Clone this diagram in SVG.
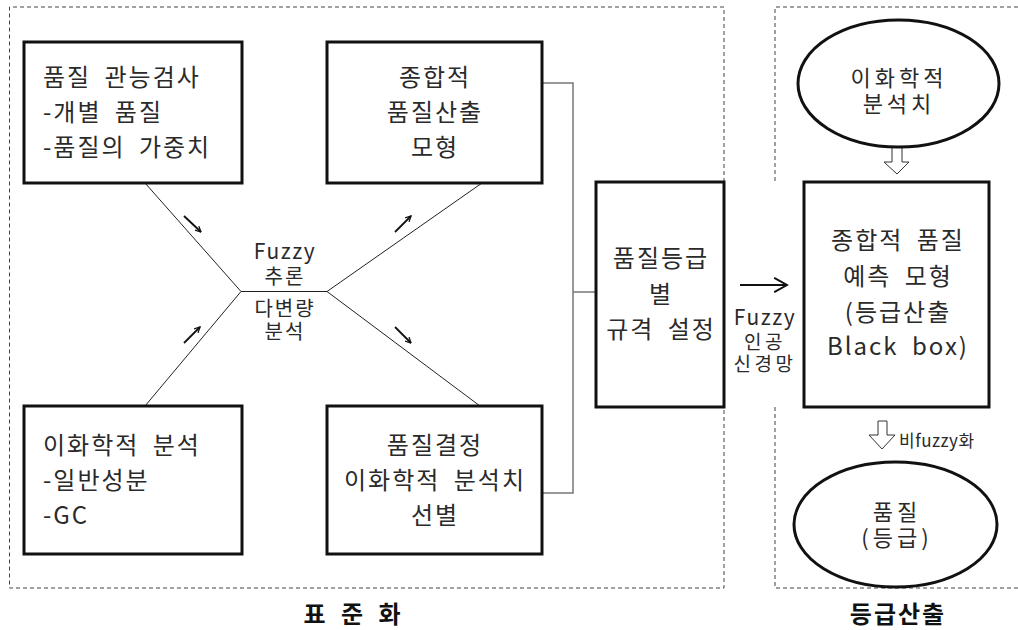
<svg xmlns="http://www.w3.org/2000/svg" width="1018" height="630" viewBox="0 0 1018 630">
<style>
.t{font-family:"Noto Sans CJK KR","Noto Sans",sans-serif;font-size:24px;fill:#2a2a2a;letter-spacing:2px;word-spacing:6px}
.m{text-anchor:middle}
.s{font-size:20px;letter-spacing:2px}
.e{font-size:22px;letter-spacing:4px}
.n{font-size:19px;letter-spacing:3.5px}
.f{font-size:21px;letter-spacing:1.5px}
.xs{font-size:17px;letter-spacing:0.5px;word-spacing:0}
.b{font-weight:bold;fill:#111}
.box{fill:#fff;stroke:#111;stroke-width:3}
.dash{fill:none;stroke:#444;stroke-width:1;stroke-dasharray:4 3}
.conn{fill:none;stroke:#222;stroke-width:1}
.grey{fill:none;stroke:#777;stroke-width:1.5}
.arr{fill:none;stroke:#111;stroke-width:1.8;marker-end:url(#chev)}
.hollow{fill:#fff;stroke:#333;stroke-width:1}
</style>
<defs>
<marker id="chev" viewBox="0 0 10 10" refX="9" refY="5" markerWidth="7" markerHeight="7" markerUnits="userSpaceOnUse" orient="auto">
<path d="M1,1 L9,5 L1,9" fill="none" stroke="#111" stroke-width="1.8"/>
</marker>
<marker id="chevL" viewBox="0 0 10 10" refX="9" refY="5" markerWidth="16" markerHeight="16" markerUnits="userSpaceOnUse" orient="auto">
<path d="M1,0.5 L9,5 L1,9.5" fill="none" stroke="#111" stroke-width="1.2"/>
</marker>
</defs>

<g id="frames">
<path class="dash" d="M724,182 V7 H9.5 V588 H724 V407"/>
<path class="dash" d="M1018,7 H775 V182 M775,407 V588 H1018"/>
</g>

<g id="connectors">
<path class="conn" d="M145,183 L241,291.5 L327,291.5 L482,183"/>
<path class="conn" d="M145,406 L241,291.5 M327,291.5 L480,406"/>
<path class="grey" d="M542,83 H573 V493 H542 M573,292 H596"/>
<path class="arr" d="M184,216 L201,232"/>
<path class="arr" d="M395,232 L411,216"/>
<path class="arr" d="M184,343 L200,327"/>
<path class="arr" d="M395,327 L411,343"/>
<path fill="none" stroke="#111" stroke-width="1.8" marker-end="url(#chevL)" d="M740,285 L787,285"/>
<polygon class="hollow" points="892,147 902,147 902,162 909,162 897,174 884,162 892,162"/>
<polygon class="hollow" points="878,421 887,421 887,435 895,435 882,449 869,435 878,435"/>
</g>

<g id="hub-label">
<text class="t f m" x="285" y="259">Fuzzy</text>
<text class="t s m" x="285" y="284">추론</text>
<text class="t s m" x="285" y="316">다변량</text>
<text class="t s m" x="285" y="339">분석</text>
</g>

<g id="node-sensory">
<rect class="box" x="24" y="42" width="218" height="141"/>
<text class="t" x="43" y="86">품질 관능검사</text>
<text class="t" x="43" y="121">-개별 품질</text>
<text class="t" x="43" y="156">-품질의 가중치</text>
</g>

<g id="node-model">
<rect class="box" x="327" y="42" width="215" height="141"/>
<text class="t m" x="435" y="86">종합적</text>
<text class="t m" x="435" y="121">품질산출</text>
<text class="t m" x="435" y="156">모형</text>
</g>

<g id="node-chem">
<rect class="box" x="24" y="406" width="218" height="148"/>
<text class="t" x="43" y="454">이화학적 분석</text>
<text class="t" x="43" y="489">-일반성분</text>
<text class="t" x="43" y="524">-GC</text>
</g>

<g id="node-select">
<rect class="box" x="327" y="406" width="215" height="148"/>
<text class="t m" x="435" y="454">품질결정</text>
<text class="t m" x="435" y="489">이화학적 분석치</text>
<text class="t m" x="435" y="524">선별</text>
</g>

<g id="node-grade-spec">
<rect class="box" x="596" y="182" width="128" height="225"/>
<text class="t m" x="661" y="267">품질등급</text>
<text class="t m" x="661" y="303">별</text>
<text class="t m" x="661" y="338">규격 설정</text>
</g>

<g id="ann-nn">
<text class="t f m" x="765" y="325">Fuzzy</text>
<text class="t n m" x="765" y="349">인공</text>
<text class="t n m" x="765" y="371">신경망</text>
</g>

<g id="node-chem-values">
<ellipse class="box" cx="898.5" cy="83.5" rx="100.5" ry="63.5"/>
<text class="t e m" x="899" y="86">이화학적</text>
<text class="t e m" x="899" y="112">분석치</text>
</g>

<g id="node-predict">
<rect class="box" x="804" y="182" width="185" height="225"/>
<text class="t m" x="898" y="249">종합적 품질</text>
<text class="t m" x="898" y="285">예측 모형</text>
<text class="t m" x="898" y="321">(등급산출</text>
<text class="t m" x="898" y="355">Black box)</text>
</g>

<g id="ann-defuzz">
<text class="t xs" x="899" y="447">비fuzzy화</text>
</g>

<g id="node-quality">
<ellipse class="box" cx="895.5" cy="524.5" rx="101.5" ry="62.5"/>
<text class="t e m" x="897" y="520">품질</text>
<text class="t e m" x="897" y="546">(등급)</text>
</g>

<g id="titles">
<text class="t m b" x="353" y="623">표 준 화</text>
<text class="t m b" x="898" y="623">등급산출</text>
</g>
</svg>
